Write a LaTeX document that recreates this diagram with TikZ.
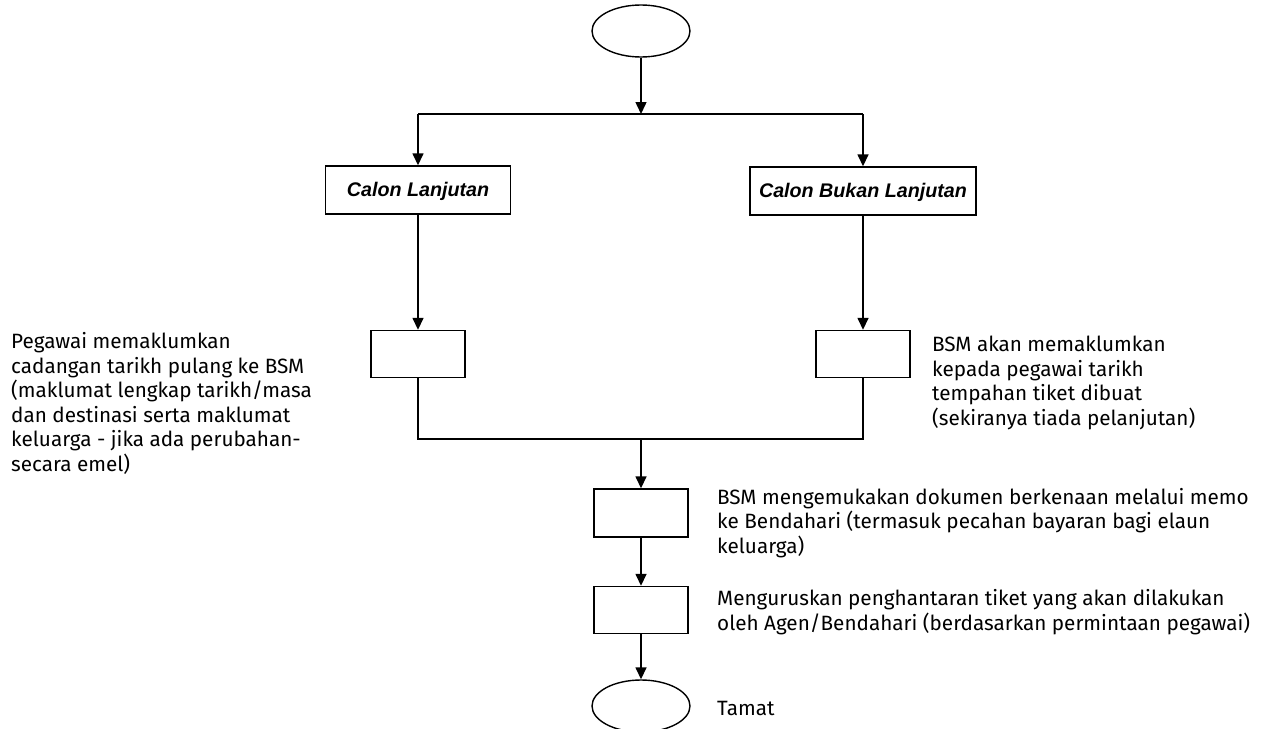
\documentclass[tikz,border=0pt]{standalone}
\usepackage{fontspec}
\setmainfont{Fira Sans}
\newfontfamily\arialfont{Liberation Sans}
\usetikzlibrary{arrows.meta,shapes.geometric}
\begin{document}
\begin{tikzpicture}[x=1pt,y=-1pt,
  box/.style={draw,line width=1.4pt,minimum width=94pt,minimum height=47pt,inner sep=0pt},
  lbox/.style={draw,line width=1.4pt,inner sep=0pt,minimum height=48pt,text height=16pt,text depth=4pt,font=\arialfont\bfseries\itshape\fontsize{19.7}{22}\selectfont},
  term/.style={draw,ellipse,line width=1.4pt,minimum width=98pt,minimum height=52pt,inner sep=0pt},
  arr/.style={-{Triangle[length=12pt,width=11pt]},line width=1.5pt},
  ln/.style={line width=1.5pt},
  desc/.style={anchor=base west,align=left,inner sep=0pt,font=\fontsize{20.7}{24.5}\selectfont}
]
\useasboundingbox (0,0) rectangle (1282,728);
\node[term] (start) at (641,31) {};
\coordinate (jt) at (641,114);
\coordinate (jl) at (418,114);
\coordinate (jr) at (863,114);
\node[lbox,minimum width=185pt] (cl) at (418,190) {Calon Lanjutan};
\node[lbox,minimum width=226pt] (cbl) at (863,191) {Calon Bukan Lanjutan};
\node[box] (b1) at (418,354) {};
\node[box] (b2) at (863,354) {};
\coordinate (ml) at (418,439);
\coordinate (mr) at (863,439);
\coordinate (m) at (641,439);
\node[box,minimum height=48pt] (b3) at (641,513) {};
\node[box] (b4) at (641,610) {};
\node[term] (end) at (641,706) {};

\draw[arr] (start) -- (jt);
\draw[ln] (jl) -- (jr);
\draw[arr] (jl) -- (cl);
\draw[arr] (jr) -- (cbl);
\draw[arr] (cl) -- (b1);
\draw[arr] (cbl) -- (b2);
\draw[ln] (b1) -- (ml) -- (mr) -- (b2);
\draw[arr] (m) -- (b3);
\draw[arr] (b3) -- (b4);
\draw[arr] (b4) -- (end);

\node[desc] (t1) at (11,471) {Pegawai memaklumkan\\cadangan tarikh pulang ke BSM\\(maklumat lengkap tarikh/masa\\dan destinasi serta maklumat\\keluarga - jika ada perubahan-\\secara emel)};
\node[desc] (t2) at (932,425) {BSM akan memaklumkan\\kepada pegawai tarikh\\tempahan tiket dibuat\\(sekiranya tiada pelanjutan)};
\node[desc] (t3) at (717,553) {BSM mengemukakan dokumen berkenaan melalui memo\\ke Bendahari (termasuk pecahan bayaran bagi elaun\\keluarga)};
\node[desc] (t4) at (717,630) {Menguruskan penghantaran tiket yang akan dilakukan\\oleh Agen/Bendahari (berdasarkan permintaan pegawai)};
\node[desc] (t5) at (717,715) {Tamat};
\end{tikzpicture}
\end{document}
